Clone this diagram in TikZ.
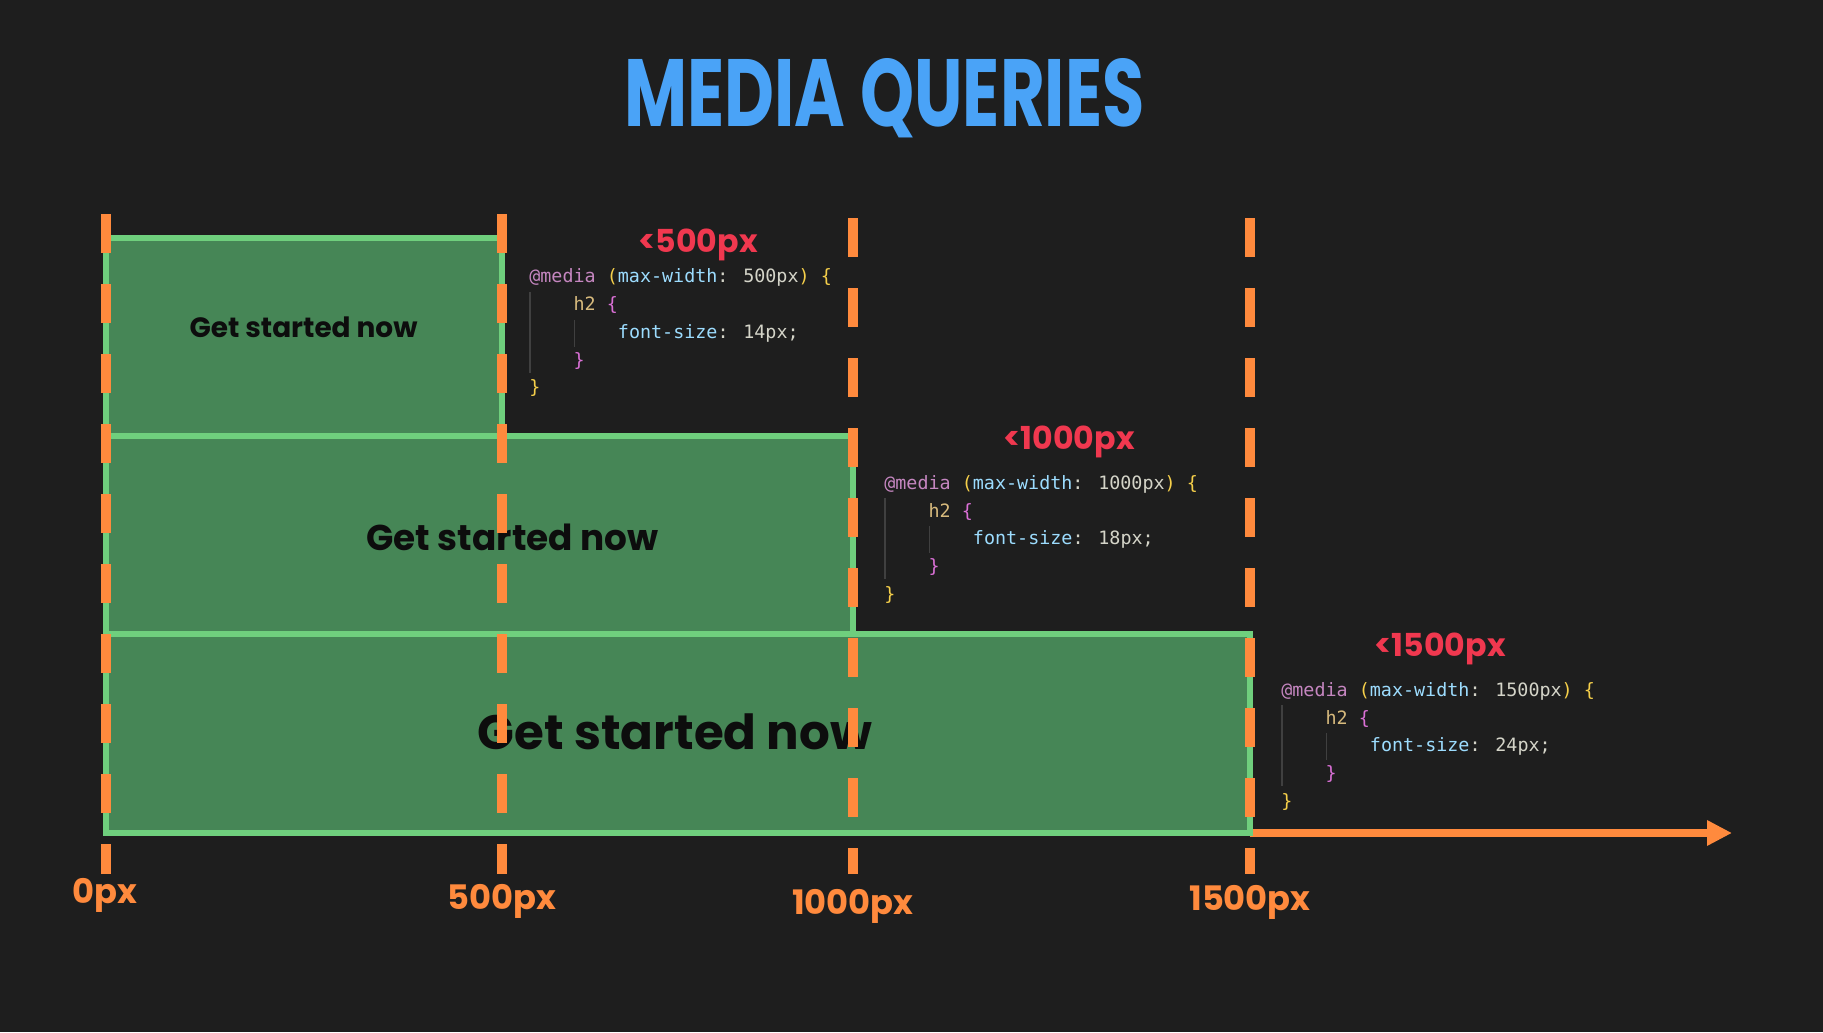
\documentclass[tikz,border=0pt]{standalone}
\usepackage{fontspec}
\usepackage{xcolor}
\usepackage{graphicx}
\usepackage{tikz}
\usetikzlibrary{arrows.meta}

\newfontfamily\poppins{Poppins}
\newfontfamily\codefont{DejaVu Sans Mono}

\definecolor{bgdark}{HTML}{1E1E1E}
\definecolor{mqorange}{HTML}{FF8A3D}
\definecolor{mqgreen}{HTML}{6FCF7D}
\definecolor{mqfill}{HTML}{468656}
\definecolor{mqblue}{HTML}{4AA3F7}
\definecolor{mqred}{HTML}{F0384F}
\definecolor{cpurple}{HTML}{C586C0}
\definecolor{cgold}{HTML}{F5CF4A}
\definecolor{cblue}{HTML}{9CDCFE}
\definecolor{cgray}{HTML}{D4D4C8}
\definecolor{cbeige}{HTML}{D7BA7D}
\definecolor{corchid}{HTML}{DA70D6}
\definecolor{cguide}{HTML}{404040}

\tikzset{
  breakline/.style={mqorange, line width=0.2cm, dash pattern=on 0.78cm off 0.62cm},
  mqbox/.style={draw=mqgreen, fill=mqfill, line width=0.11cm},
  axisarrow/.style={mqorange, line width=0.16cm, -{Triangle[length=0.5cm,width=0.48cm]}},
  boxtext/.style={anchor=base, inner sep=0, text=black!95},
  codeln/.style={anchor=base west, inner sep=0, font=\codefont\fontsize{10.46}{12}\selectfont},
  guide/.style={draw=cguide, line width=0.6pt},
  pxlabel/.style={text=mqorange, inner sep=0, font=\poppins\bfseries\fontsize{19.2}{21}\selectfont},
  limlabel/.style={text=mqred, inner sep=0, font=\poppins\bfseries\fontsize{18}{20}\selectfont},
  titletext/.style={text=mqblue, anchor=base, inner sep=0, font=\poppins\bfseries}
}

% one css block: name, x, baseline y, max-width, font-size
\newcommand{\mqcode}[5]{%
  \node[codeln] (#1l1) at (#2,#3) {\textcolor{cpurple}{@media} \textcolor{cgold}{(}\textcolor{cblue}{max-width}\textcolor{cgray}{: #4px}\textcolor{cgold}{)} \textcolor{cgold}{\{}};
  \node[codeln] (#1l2) at (#2+0.886,#3-0.555) {\textcolor{cbeige}{h2} \textcolor{corchid}{\{}};
  \node[codeln] (#1l3) at (#2+1.772,#3-1.11) {\textcolor{cblue}{font-size}\textcolor{cgray}{: #5px;}};
  \node[codeln] (#1l4) at (#2+0.886,#3-1.665) {\textcolor{corchid}{\}}};
  \node[codeln] (#1l5) at (#2,#3-2.22) {\textcolor{cgold}{\}}};
  \draw[guide] (#2+0.02,#3-0.18) -- (#2+0.02,#3-1.8);
  \draw[guide] (#2+0.906,#3-0.74) -- (#2+0.906,#3-1.28);
}

\begin{document}
\begin{tikzpicture}
  \useasboundingbox (0,0) rectangle (36.46,20.64);
  \fill[bgdark] (0,0) rectangle (36.46,20.64);

  % Title
  \node[titletext] (title) at (17.69,18.1) {\resizebox{10.4cm}{1.36cm}{MEDIA QUERIES}};

  % Breakpoints
  \foreach \name/\x/\top in {0/2.12/16.35, 500/10.04/16.35, 1000/17.06/16.27, 1500/25.0/16.27} {
    \coordinate (top\name) at (\x,\top);
    \coordinate (base\name) at (\x,3.98);
    \coordinate (bot\name) at (\x,3.15);
  }
  \coordinate (axisend) at (34.64,3.98);
  \draw[axisarrow] (base1500) -- (axisend);

  % Boxes
  \draw[mqbox] (2.12,3.98) rectangle (25.0,7.96);
  \draw[mqbox] (2.12,7.96) rectangle (17.06,11.92);
  \draw[mqbox] (2.12,11.92) rectangle (10.04,15.88);
  \node[boxtext, font=\poppins\bfseries\fontsize{15.9}{18}\selectfont] (h2small) at (6.07,13.88) {Get started now};
  \node[boxtext, font=\poppins\bfseries\fontsize{20.4}{23}\selectfont] (h2mid) at (10.25,9.62) {Get started now};
  \node[boxtext, font=\poppins\bfseries\fontsize{27.5}{30}\selectfont] (h2big) at (13.5,5.64) {Get started now};

  % Dashed breakpoint lines
  \foreach \name in {0,500,1000,1500}
    \draw[breakline] (top\name) -- (bot\name);

  % Axis labels
  \node[pxlabel] (lbl0) at (2.1,2.74) {0px};
  \node[pxlabel] (lbl500) at (10.04,2.62) {500px};
  \node[pxlabel] (lbl1000) at (17.06,2.52) {1000px};
  \node[pxlabel] (lbl1500) at (25.0,2.6) {1500px};

  % Queries
  \node[limlabel] (lim500) at (13.96,15.74) {<500px};
  \node[limlabel] (lim1000) at (21.38,11.8) {<1000px};
  \node[limlabel] (lim1500) at (28.8,7.66) {<1500px};
  \mqcode{qa}{10.58}{14.98}{500}{14}
  \mqcode{qb}{17.68}{10.85}{1000}{18}
  \mqcode{qc}{25.62}{6.71}{1500}{24}
\end{tikzpicture}
\end{document}
